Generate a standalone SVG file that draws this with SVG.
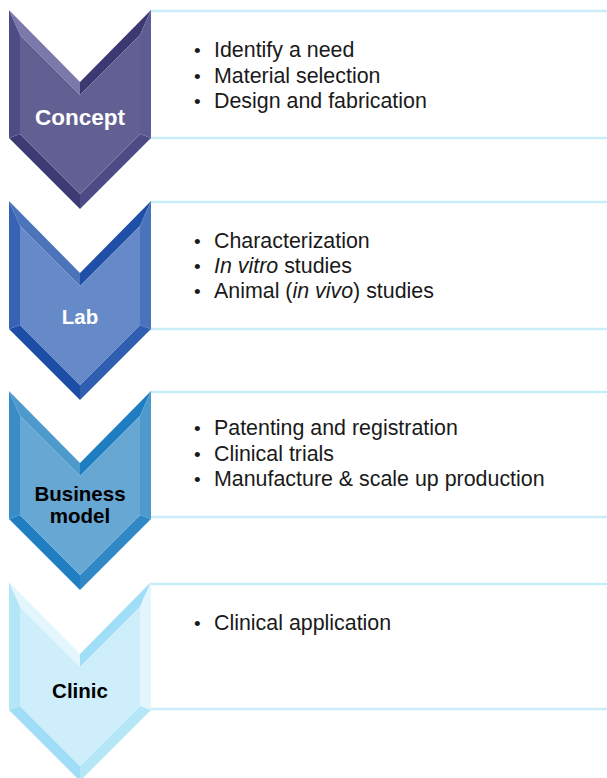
<svg xmlns="http://www.w3.org/2000/svg" width="607" height="778" viewBox="0 0 607 778">
<style>
.box{fill:#ffffff}
.rule{stroke:#c9edf9;stroke-width:2.5;fill:none}
.lbl{font-family:"Liberation Sans",Arial,Helvetica,sans-serif;font-weight:bold;text-anchor:middle}
.item{font-family:"Liberation Sans",Arial,Helvetica,sans-serif;font-size:21.4px;fill:#1a1a1a}
.bul{font-size:19px}
</style>
<rect width="607" height="778" fill="#ffffff"/>

<g id="concept" transform="translate(0,10)">
  <rect class="box" x="151" y="1" width="456" height="127"/>
  <line class="rule" x1="150" y1="1" x2="607" y2="1"/>
  <line class="rule" x1="150" y1="128" x2="607" y2="128"/>
  <polygon fill="#7b78aa" points="9,0 80,72 80,85 20,25"/>
  <polygon fill="#3b3872" points="80,72 151,0 140,25 80,85"/>
  <polygon fill="#5f5c92" points="151,0 151,128 140,124 140,25"/>
  <polygon fill="#4e4a85" points="151,128 80,199 80,184 140,124"/>
  <polygon fill="#3d3a74" points="80,199 9,128 20,124 80,184"/>
  <polygon fill="#4f4b87" points="9,128 9,0 20,25 20,124"/>
  <polygon fill="#625f93" points="20,25 80,85 140,25 140,124 80,184 20,124"/>
</g>
<g id="concept-text">
  <text class="lbl" x="80" y="125" font-size="22.5" fill="#ffffff">Concept</text>
  <text class="item" x="194" y="57"><tspan class="bul">•</tspan><tspan x="214">Identify a need</tspan></text>
  <text class="item" x="194" y="83"><tspan class="bul">•</tspan><tspan x="214">Material selection</tspan></text>
  <text class="item" x="194" y="108"><tspan class="bul">•</tspan><tspan x="214">Design and fabrication</tspan></text>
</g>

<g id="lab" transform="translate(0,201)">
  <rect class="box" x="151" y="1" width="456" height="127"/>
  <line class="rule" x1="150" y1="1" x2="607" y2="1"/>
  <line class="rule" x1="150" y1="128" x2="607" y2="128"/>
  <polygon fill="#4c74bb" points="9,0 80,72 80,85 20,25"/>
  <polygon fill="#1f4fa6" points="80,72 151,0 140,25 80,85"/>
  <polygon fill="#4b73bb" points="151,0 151,128 140,124 140,25"/>
  <polygon fill="#305fb2" points="151,128 80,199 80,184 140,124"/>
  <polygon fill="#1d4ea6" points="80,199 9,128 20,124 80,184"/>
  <polygon fill="#3763b4" points="9,128 9,0 20,25 20,124"/>
  <polygon fill="#6689c7" points="20,25 80,85 140,25 140,124 80,184 20,124"/>
</g>
<g id="lab-text">
  <text class="lbl" x="80" y="324" font-size="20.5" fill="#ffffff">Lab</text>
  <text class="item" x="194" y="248"><tspan class="bul">•</tspan><tspan x="214">Characterization</tspan></text>
  <text class="item" x="194" y="273"><tspan class="bul">•</tspan><tspan x="214" font-style="italic">In vitro</tspan><tspan> studies</tspan></text>
  <text class="item" x="194" y="298"><tspan class="bul">•</tspan><tspan x="214">Animal (</tspan><tspan font-style="italic">in vivo</tspan><tspan>) studies</tspan></text>
</g>

<g id="business-model" transform="translate(0,391)">
  <rect class="box" x="151" y="1" width="456" height="126"/>
  <line class="rule" x1="150" y1="1" x2="607" y2="1"/>
  <line class="rule" x1="150" y1="126" x2="607" y2="126"/>
  <polygon fill="#4e9acd" points="9,0 80,72 80,85 20,25"/>
  <polygon fill="#1f7ec1" points="80,72 151,0 140,25 80,85"/>
  <polygon fill="#4e9acd" points="151,0 151,128 140,124 140,25"/>
  <polygon fill="#3089c6" points="151,128 80,199 80,184 140,124"/>
  <polygon fill="#1f7ec1" points="80,199 9,128 20,124 80,184"/>
  <polygon fill="#3a8cc7" points="9,128 9,0 20,25 20,124"/>
  <polygon fill="#66a7d3" points="20,25 80,85 140,25 140,124 80,184 20,124"/>
</g>
<g id="business-text">
  <text class="lbl" x="80" y="501" font-size="20.5" fill="#000000">Business</text>
  <text class="lbl" x="80" y="523" font-size="20.5" fill="#000000">model</text>
  <text class="item" x="194" y="435"><tspan class="bul">•</tspan><tspan x="214">Patenting and registration</tspan></text>
  <text class="item" x="194" y="461"><tspan class="bul">•</tspan><tspan x="214">Clinical trials</tspan></text>
  <text class="item" x="194" y="486"><tspan class="bul">•</tspan><tspan x="214">Manufacture &amp; scale up production</tspan></text>
</g>

<g id="clinic" transform="translate(0,582)">
  <rect class="box" x="151" y="2" width="456" height="125"/>
  <line class="rule" x1="150" y1="2" x2="607" y2="2"/>
  <line class="rule" x1="150" y1="127" x2="607" y2="127"/>
  <polygon fill="#e4f6fd" points="9,0 80,72 80,85 20,25"/>
  <polygon fill="#a0ddf6" points="80,72 151,0 140,25 80,85"/>
  <polygon fill="#e4f6fd" points="151,0 151,128 140,124 140,25"/>
  <polygon fill="#b5e6f8" points="151,128 80,199 80,184 140,124"/>
  <polygon fill="#a0ddf6" points="80,199 9,128 20,124 80,184"/>
  <polygon fill="#b5e6f8" points="9,128 9,0 20,25 20,124"/>
  <polygon fill="#cdeefa" points="20,25 80,85 140,25 140,124 80,184 20,124"/>
</g>
<g id="clinic-text">
  <text class="lbl" x="80" y="698" font-size="20.5" fill="#000000">Clinic</text>
  <text class="item" x="194" y="630"><tspan class="bul">•</tspan><tspan x="214">Clinical application</tspan></text>
</g>

<g id="connectors"></g>
</svg>
